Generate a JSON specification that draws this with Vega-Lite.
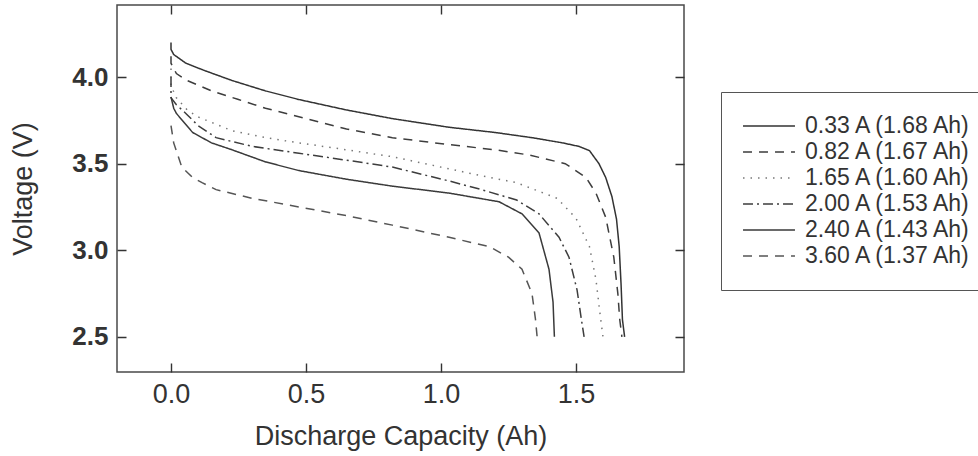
{
  "$schema": "https://vega.github.io/schema/vega-lite/v6.json",
  "width": 567,
  "height": 367,
  "autosize": {"type": "none"},
  "padding": {"left": 117, "top": 5, "right": 294, "bottom": 84},
  "background": "white",
  "config": {
    "font": "Liberation Sans",
    "view": {"stroke": "#4a4a4a", "strokeWidth": 1.5},
    "axis": {"domain": false, "ticks": false, "grid": true, "gridColor": "#333333", "gridWidth": 1.4, "gridOpacity": 1, "zindex": 1, "labelColor": "#333", "titleColor": "#333", "labelFontSize": 27, "titleFontSize": 27, "titleFontWeight": "normal"}
  },
  "data": {"values": [
    {"series": "0.33 A (1.68 Ah)", "i": 0, "cap": 0, "v": 4.2},
    {"series": "0.33 A (1.68 Ah)", "i": 1, "cap": 0, "v": 4.16},
    {"series": "0.33 A (1.68 Ah)", "i": 2, "cap": 0.01, "v": 4.13},
    {"series": "0.33 A (1.68 Ah)", "i": 3, "cap": 0.055, "v": 4.08},
    {"series": "0.33 A (1.68 Ah)", "i": 4, "cap": 0.12, "v": 4.04},
    {"series": "0.33 A (1.68 Ah)", "i": 5, "cap": 0.226, "v": 3.98},
    {"series": "0.33 A (1.68 Ah)", "i": 6, "cap": 0.35, "v": 3.92},
    {"series": "0.33 A (1.68 Ah)", "i": 7, "cap": 0.474, "v": 3.87},
    {"series": "0.33 A (1.68 Ah)", "i": 8, "cap": 0.65, "v": 3.81},
    {"series": "0.33 A (1.68 Ah)", "i": 9, "cap": 0.82, "v": 3.76},
    {"series": "0.33 A (1.68 Ah)", "i": 10, "cap": 1.03, "v": 3.71},
    {"series": "0.33 A (1.68 Ah)", "i": 11, "cap": 1.2, "v": 3.68},
    {"series": "0.33 A (1.68 Ah)", "i": 12, "cap": 1.337, "v": 3.65},
    {"series": "0.33 A (1.68 Ah)", "i": 13, "cap": 1.45, "v": 3.62},
    {"series": "0.33 A (1.68 Ah)", "i": 14, "cap": 1.51, "v": 3.6},
    {"series": "0.33 A (1.68 Ah)", "i": 15, "cap": 1.55, "v": 3.575},
    {"series": "0.33 A (1.68 Ah)", "i": 16, "cap": 1.585, "v": 3.5},
    {"series": "0.33 A (1.68 Ah)", "i": 17, "cap": 1.61, "v": 3.42},
    {"series": "0.33 A (1.68 Ah)", "i": 18, "cap": 1.633, "v": 3.31},
    {"series": "0.33 A (1.68 Ah)", "i": 19, "cap": 1.65, "v": 3.18},
    {"series": "0.33 A (1.68 Ah)", "i": 20, "cap": 1.66, "v": 3.02},
    {"series": "0.33 A (1.68 Ah)", "i": 21, "cap": 1.667, "v": 2.8},
    {"series": "0.33 A (1.68 Ah)", "i": 22, "cap": 1.672, "v": 2.6},
    {"series": "0.33 A (1.68 Ah)", "i": 23, "cap": 1.68, "v": 2.5},
    {"series": "0.82 A (1.67 Ah)", "i": 0, "cap": 0, "v": 4.12},
    {"series": "0.82 A (1.67 Ah)", "i": 1, "cap": 0, "v": 4.08},
    {"series": "0.82 A (1.67 Ah)", "i": 2, "cap": 0.02, "v": 4.02},
    {"series": "0.82 A (1.67 Ah)", "i": 3, "cap": 0.06, "v": 3.98},
    {"series": "0.82 A (1.67 Ah)", "i": 4, "cap": 0.15, "v": 3.92},
    {"series": "0.82 A (1.67 Ah)", "i": 5, "cap": 0.25, "v": 3.87},
    {"series": "0.82 A (1.67 Ah)", "i": 6, "cap": 0.35, "v": 3.82},
    {"series": "0.82 A (1.67 Ah)", "i": 7, "cap": 0.5, "v": 3.76},
    {"series": "0.82 A (1.67 Ah)", "i": 8, "cap": 0.65, "v": 3.7},
    {"series": "0.82 A (1.67 Ah)", "i": 9, "cap": 0.82, "v": 3.65},
    {"series": "0.82 A (1.67 Ah)", "i": 10, "cap": 1.03, "v": 3.61},
    {"series": "0.82 A (1.67 Ah)", "i": 11, "cap": 1.2, "v": 3.58},
    {"series": "0.82 A (1.67 Ah)", "i": 12, "cap": 1.326, "v": 3.55},
    {"series": "0.82 A (1.67 Ah)", "i": 13, "cap": 1.46, "v": 3.5},
    {"series": "0.82 A (1.67 Ah)", "i": 14, "cap": 1.537, "v": 3.42},
    {"series": "0.82 A (1.67 Ah)", "i": 15, "cap": 1.574, "v": 3.33},
    {"series": "0.82 A (1.67 Ah)", "i": 16, "cap": 1.61, "v": 3.19},
    {"series": "0.82 A (1.67 Ah)", "i": 17, "cap": 1.64, "v": 2.96},
    {"series": "0.82 A (1.67 Ah)", "i": 18, "cap": 1.655, "v": 2.75},
    {"series": "0.82 A (1.67 Ah)", "i": 19, "cap": 1.662, "v": 2.6},
    {"series": "0.82 A (1.67 Ah)", "i": 20, "cap": 1.67, "v": 2.5},
    {"series": "1.65 A (1.60 Ah)", "i": 0, "cap": 0, "v": 4.05},
    {"series": "1.65 A (1.60 Ah)", "i": 1, "cap": 0, "v": 3.95},
    {"series": "1.65 A (1.60 Ah)", "i": 2, "cap": 0.02, "v": 3.88},
    {"series": "1.65 A (1.60 Ah)", "i": 3, "cap": 0.06, "v": 3.81},
    {"series": "1.65 A (1.60 Ah)", "i": 4, "cap": 0.1, "v": 3.77},
    {"series": "1.65 A (1.60 Ah)", "i": 5, "cap": 0.226, "v": 3.69},
    {"series": "1.65 A (1.60 Ah)", "i": 6, "cap": 0.35, "v": 3.65},
    {"series": "1.65 A (1.60 Ah)", "i": 7, "cap": 0.474, "v": 3.62},
    {"series": "1.65 A (1.60 Ah)", "i": 8, "cap": 0.65, "v": 3.58},
    {"series": "1.65 A (1.60 Ah)", "i": 9, "cap": 0.82, "v": 3.54},
    {"series": "1.65 A (1.60 Ah)", "i": 10, "cap": 1.03, "v": 3.47},
    {"series": "1.65 A (1.60 Ah)", "i": 11, "cap": 1.15, "v": 3.43},
    {"series": "1.65 A (1.60 Ah)", "i": 12, "cap": 1.28, "v": 3.39},
    {"series": "1.65 A (1.60 Ah)", "i": 13, "cap": 1.43, "v": 3.3},
    {"series": "1.65 A (1.60 Ah)", "i": 14, "cap": 1.5, "v": 3.185},
    {"series": "1.65 A (1.60 Ah)", "i": 15, "cap": 1.55, "v": 3.02},
    {"series": "1.65 A (1.60 Ah)", "i": 16, "cap": 1.574, "v": 2.83},
    {"series": "1.65 A (1.60 Ah)", "i": 17, "cap": 1.59, "v": 2.62},
    {"series": "1.65 A (1.60 Ah)", "i": 18, "cap": 1.6, "v": 2.5},
    {"series": "2.00 A (1.53 Ah)", "i": 0, "cap": 0, "v": 4.0},
    {"series": "2.00 A (1.53 Ah)", "i": 1, "cap": 0, "v": 3.88},
    {"series": "2.00 A (1.53 Ah)", "i": 2, "cap": 0.02, "v": 3.84},
    {"series": "2.00 A (1.53 Ah)", "i": 3, "cap": 0.055, "v": 3.79},
    {"series": "2.00 A (1.53 Ah)", "i": 4, "cap": 0.1, "v": 3.72},
    {"series": "2.00 A (1.53 Ah)", "i": 5, "cap": 0.167, "v": 3.65},
    {"series": "2.00 A (1.53 Ah)", "i": 6, "cap": 0.3, "v": 3.6},
    {"series": "2.00 A (1.53 Ah)", "i": 7, "cap": 0.474, "v": 3.56},
    {"series": "2.00 A (1.53 Ah)", "i": 8, "cap": 0.65, "v": 3.52},
    {"series": "2.00 A (1.53 Ah)", "i": 9, "cap": 0.82, "v": 3.48},
    {"series": "2.00 A (1.53 Ah)", "i": 10, "cap": 1.03, "v": 3.4},
    {"series": "2.00 A (1.53 Ah)", "i": 11, "cap": 1.15, "v": 3.35},
    {"series": "2.00 A (1.53 Ah)", "i": 12, "cap": 1.28, "v": 3.29},
    {"series": "2.00 A (1.53 Ah)", "i": 13, "cap": 1.363, "v": 3.21},
    {"series": "2.00 A (1.53 Ah)", "i": 14, "cap": 1.437, "v": 3.075},
    {"series": "2.00 A (1.53 Ah)", "i": 15, "cap": 1.474, "v": 2.96},
    {"series": "2.00 A (1.53 Ah)", "i": 16, "cap": 1.504, "v": 2.77},
    {"series": "2.00 A (1.53 Ah)", "i": 17, "cap": 1.52, "v": 2.6},
    {"series": "2.00 A (1.53 Ah)", "i": 18, "cap": 1.53, "v": 2.5},
    {"series": "2.40 A (1.43 Ah)", "i": 0, "cap": 0, "v": 3.885},
    {"series": "2.40 A (1.43 Ah)", "i": 1, "cap": 0.01, "v": 3.82},
    {"series": "2.40 A (1.43 Ah)", "i": 2, "cap": 0.02, "v": 3.79},
    {"series": "2.40 A (1.43 Ah)", "i": 3, "cap": 0.08, "v": 3.68},
    {"series": "2.40 A (1.43 Ah)", "i": 4, "cap": 0.15, "v": 3.62},
    {"series": "2.40 A (1.43 Ah)", "i": 5, "cap": 0.226, "v": 3.58},
    {"series": "2.40 A (1.43 Ah)", "i": 6, "cap": 0.35, "v": 3.51},
    {"series": "2.40 A (1.43 Ah)", "i": 7, "cap": 0.474, "v": 3.46},
    {"series": "2.40 A (1.43 Ah)", "i": 8, "cap": 0.65, "v": 3.41},
    {"series": "2.40 A (1.43 Ah)", "i": 9, "cap": 0.82, "v": 3.37},
    {"series": "2.40 A (1.43 Ah)", "i": 10, "cap": 1.03, "v": 3.33},
    {"series": "2.40 A (1.43 Ah)", "i": 11, "cap": 1.215, "v": 3.28},
    {"series": "2.40 A (1.43 Ah)", "i": 12, "cap": 1.3, "v": 3.21},
    {"series": "2.40 A (1.43 Ah)", "i": 13, "cap": 1.363, "v": 3.1},
    {"series": "2.40 A (1.43 Ah)", "i": 14, "cap": 1.4, "v": 2.89},
    {"series": "2.40 A (1.43 Ah)", "i": 15, "cap": 1.415, "v": 2.7},
    {"series": "2.40 A (1.43 Ah)", "i": 16, "cap": 1.42, "v": 2.5},
    {"series": "3.60 A (1.37 Ah)", "i": 0, "cap": 0, "v": 3.72},
    {"series": "3.60 A (1.37 Ah)", "i": 1, "cap": 0.01, "v": 3.62},
    {"series": "3.60 A (1.37 Ah)", "i": 2, "cap": 0.04, "v": 3.48},
    {"series": "3.60 A (1.37 Ah)", "i": 3, "cap": 0.08, "v": 3.42},
    {"series": "3.60 A (1.37 Ah)", "i": 4, "cap": 0.115, "v": 3.39},
    {"series": "3.60 A (1.37 Ah)", "i": 5, "cap": 0.167, "v": 3.35},
    {"series": "3.60 A (1.37 Ah)", "i": 6, "cap": 0.3, "v": 3.3},
    {"series": "3.60 A (1.37 Ah)", "i": 7, "cap": 0.474, "v": 3.25},
    {"series": "3.60 A (1.37 Ah)", "i": 8, "cap": 0.65, "v": 3.2},
    {"series": "3.60 A (1.37 Ah)", "i": 9, "cap": 0.82, "v": 3.145},
    {"series": "3.60 A (1.37 Ah)", "i": 10, "cap": 1.03, "v": 3.075},
    {"series": "3.60 A (1.37 Ah)", "i": 11, "cap": 1.18, "v": 3.02},
    {"series": "3.60 A (1.37 Ah)", "i": 12, "cap": 1.25, "v": 2.96},
    {"series": "3.60 A (1.37 Ah)", "i": 13, "cap": 1.3, "v": 2.89},
    {"series": "3.60 A (1.37 Ah)", "i": 14, "cap": 1.337, "v": 2.75},
    {"series": "3.60 A (1.37 Ah)", "i": 15, "cap": 1.35, "v": 2.6},
    {"series": "3.60 A (1.37 Ah)", "i": 16, "cap": 1.356, "v": 2.5}
  ]},
  "layer": [
    {
      "mark": {"type": "line", "strokeWidth": 1.5, "interpolate": "linear"},
      "encoding": {
        "x": {"field": "cap", "type": "quantitative", "scale": {"domain": [-0.2, 1.9], "nice": false, "zero": false},
              "axis": {"orient": "bottom", "values": [0, 0.5, 1, 1.5], "format": ".1f", "labelPadding": 9, "gridDash": [9, 349, 9], "title": "Discharge Capacity (Ah)", "titlePadding": 16}},
        "y": {"field": "v", "type": "quantitative", "scale": {"domain": [2.297, 4.416], "nice": false, "zero": false},
              "axis": {"orient": "left", "values": [2.5, 3, 3.5, 4], "format": ".1f", "labelPadding": 9, "gridDash": [9, 549, 9], "labelFontWeight": "bold", "labelFontSize": 26, "title": "Voltage (V)", "titlePadding": 34}},
        "strokeDash": {"field": "series", "type": "nominal",
          "scale": {"domain": ["0.33 A (1.68 Ah)", "0.82 A (1.67 Ah)", "1.65 A (1.60 Ah)", "2.00 A (1.53 Ah)", "2.40 A (1.43 Ah)", "3.60 A (1.37 Ah)"],
                    "range": [[1, 0], [9, 7], [1.5, 6], [10, 4, 2, 4], [1, 0], [9, 7]]},
          "legend": {"orient": "none", "legendX": 604, "legendY": 87, "title": null, "strokeColor": "#555", "padding": 21,
                     "symbolType": "stroke", "symbolSize": 2700, "symbolStrokeWidth": 1.5, "clipHeight": 26, "labelFontSize": 23, "labelLimit": 400, "labelColor": "#333", "labelOffset": 9, "rowPadding": 0}},
        "color": {"field": "series", "type": "nominal",
          "scale": {"domain": ["0.33 A (1.68 Ah)", "0.82 A (1.67 Ah)", "1.65 A (1.60 Ah)", "2.00 A (1.53 Ah)", "2.40 A (1.43 Ah)", "3.60 A (1.37 Ah)"],
                    "range": ["#333333", "#3d3d3d", "#777777", "#3d3d3d", "#3a3a3a", "#555555"]},
          "legend": {"orient": "none", "legendX": 604, "legendY": 87, "title": null, "strokeColor": "#555", "padding": 21,
                     "symbolType": "stroke", "symbolSize": 2700, "symbolStrokeWidth": 1.5, "clipHeight": 26, "labelFontSize": 23, "labelLimit": 400, "labelColor": "#333", "labelOffset": 9, "rowPadding": 0}},
        "order": {"field": "i", "type": "quantitative"}
      }
    },
    {
      "mark": {"type": "line", "opacity": 0},
      "encoding": {
        "x": {"field": "cap", "type": "quantitative", "axis": {"orient": "top", "values": [-0.1, 0.1, 0.2, 0.3, 0.4, 0.6, 0.7, 0.8, 0.9, 1.1, 1.2, 1.3, 1.4, 1.6, 1.7, 1.8], "gridDash": [5, 357, 5], "labels": false, "title": null}},
        "y": {"field": "v", "type": "quantitative", "axis": {"orient": "right", "values": [2.4, 2.6, 2.7, 2.8, 2.9, 3.1, 3.2, 3.3, 3.4, 3.6, 3.7, 3.8, 3.9, 4.1, 4.2, 4.3, 4.4], "gridDash": [5, 557, 5], "labels": false, "title": null}},
        "detail": {"field": "series"}
      }
    }
  ],
  "resolve": {"axis": {"x": "independent", "y": "independent"}}
}
